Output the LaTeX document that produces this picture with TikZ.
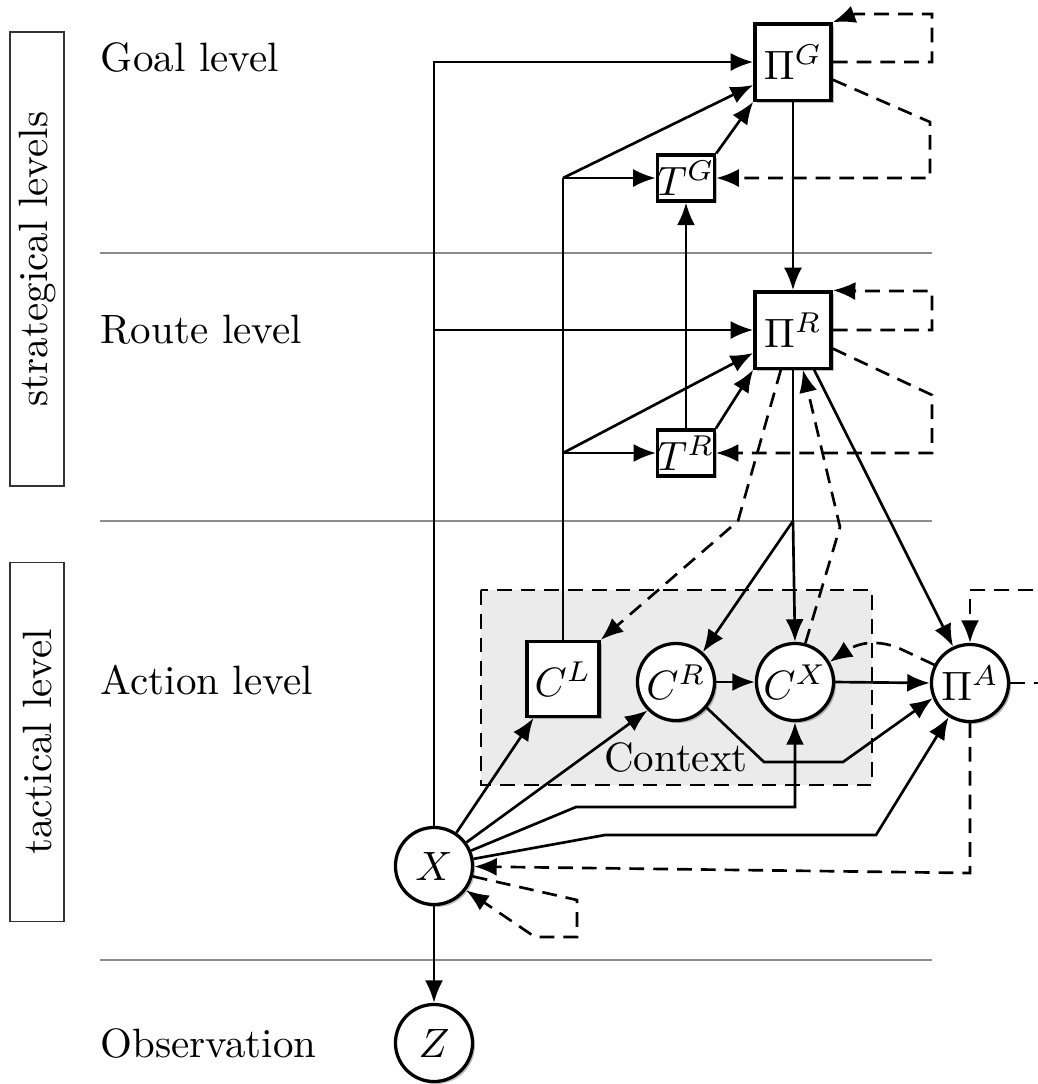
\documentclass[tikz,border=0pt]{standalone}
\usetikzlibrary{arrows.meta,shadows,backgrounds,calc}
\begin{document}
\begin{tikzpicture}[x=0.2439pt,y=-0.2439pt]
\tikzset{
  lvl/.style={anchor=base west, inner sep=0pt},
  sidebox/.style={draw=black!80, line width=0.4pt, rotate=90, minimum height=13.2pt, inner sep=2pt},
  sep/.style={draw=black!45, line width=0.6pt},
  shad/.style={drop shadow={shadow xshift=0.6pt, shadow yshift=-0.6pt, opacity=0.25, fill=black}},
  pbox/.style={draw, rectangle, line width=0.8pt, fill=white, minimum size=18.6pt, inner sep=1pt, shad},
  tbox/.style={draw, rectangle, line width=0.8pt, fill=white, minimum size=11.2pt, inner sep=0pt, shad},
  cvar/.style={draw, circle, line width=0.8pt, fill=white, minimum size=18.8pt, inner sep=0pt, shad},
  plain/.style={line width=0.65pt},
  arr/.style={line width=0.65pt, -{Latex[length=5.5pt,width=4.4pt]}},
  darr/.style={arr, dash pattern=on 3.6pt off 2.2pt},
  ctx/.style={draw, dash pattern=on 3.6pt off 2.2pt, fill=black!8, line width=0.65pt}
}
\useasboundingbox (0,0) rectangle (1038,1084);
\clip (0,0) rectangle (1038,1084);

% level captions and side boxes
\node[sidebox, minimum width=110.7pt] (strat) at (37,259) {strategical levels};
\node[sidebox, minimum width=87.6pt] (tact) at (37,742) {tactical level};
\node[lvl] (goal) at (100,71) {Goal level};
\node[lvl] (route) at (100,343) {Route level};
\node[lvl] (action) at (100,694) {Action level};
\node[lvl] (obs) at (100,1057) {Observation};

% variables
\node[pbox] (PiG) at (793,62) {$\Pi^G$};
\node[pbox] (PiR) at (793,330) {$\Pi^R$};
\node[tbox] (TG) at (686,178) {$T^G$};
\node[tbox] (TR) at (686,453) {$T^R$};
\node[pbox, minimum width=17.6pt, minimum height=18.3pt] (CL) at (563,679) {$C^L$};
\node[cvar] (CR) at (676,682) {$C^R$};
\node[cvar] (CX) at (795,682) {$C^X$};
\node[cvar] (PiA) at (970,683) {$\Pi^A$};
\node[cvar] (X) at (434,866) {$X$};
\node[cvar] (Z) at (434,1043) {$Z$};
\node (ctxlabel) at (676,757) {Context};

% separators and context frame
\begin{scope}[on background layer]
  \draw[sep] (100,253) -- (932,253);
  \draw[sep] (100,521) -- (932,521);
  \draw[sep] (100,960) -- (932,960);
  \draw[ctx] (481,590) rectangle (872,785);
\end{scope}

% junction points
\coordinate (jG) at (CL.north |- TG.west);
\coordinate (jR) at (CL.north |- TR.west);
\coordinate (jA) at (PiR.south |- 0,521);

% solid dependencies
\draw[arr] (X.north) |- (PiG.west);
\draw[arr] (X.north |- PiR.west) -- (PiR.west);
\draw[arr] (X) -- (Z);
\draw[plain] (CL.north) -- (jG);
\draw[arr] (jG) -- (TG.west);
\draw[arr] (jG) -- (PiG.210);
\draw[arr] (jR) -- (TR.west);
\draw[arr] (jR) -- (PiR.210);
\draw[arr] (TG.north east) -- (PiG.south west);
\draw[arr] (TR.north east) -- (PiR.south west);
\draw[arr] (TR.north) -- (TG.south);
\draw[arr] (PiG.south) -- (PiR.north);
\draw[plain] (PiR.south) -- (jA);
\draw[arr] (jA) -- (CX.north);
\draw[arr] (jA) -- (CR.48);
\draw[arr] (PiR.-62) -- (PiA.115);
\draw[arr] (CR.east) -- (CX.west);
\draw[arr] (CX.east) -- (PiA.west);
\draw[arr] (CR.-40) -- (764,762) -- (843,762) -- (PiA.202);
\draw[arr] (X) -- (CL.233);
\draw[arr] (X) -- (CR.225);
\draw[arr] (X) -- (576,807) -- (CX.south |- 0,807) -- (CX.south);
\draw[arr] (X) -- (605,835) -- (876,835) -- (PiA.238);

% dashed dependencies
\draw[darr] (PiG.east) -- (932,62) -- (932,14) -- (855,14) -- (PiG.north east);
\draw[darr] (PiG.-24) -- (930,122) -- (930,178) -- (TG.east);
\draw[darr] (PiR.east) -- (932,330) -- (932,291) -- (855,291) -- (PiR.north east);
\draw[darr] (PiR.-25) -- (932,395) -- (932,453) -- (TR.east);
\draw[darr] (PiR.253) -- (738,521) -- (CL.north east);
\draw[darr] (CX.75) -- (840,527) -- (PiR.-76);
\draw[darr, rounded corners=3pt] (PiA.153) -- (888,643) -- (858,643) -- (CX.30);
\draw[darr] (PiA.east) -- (1070,683) -- (1070,590) -- (PiA.north |- 0,590) -- (PiA.north);
\draw[darr] (PiA.south) -- (PiA.south |- 0,873) -- (X);
\draw[darr] (X.-15) -- (577,900) -- (577,937) -- (535,937) -- (X.-37);
\end{tikzpicture}
\end{document}
